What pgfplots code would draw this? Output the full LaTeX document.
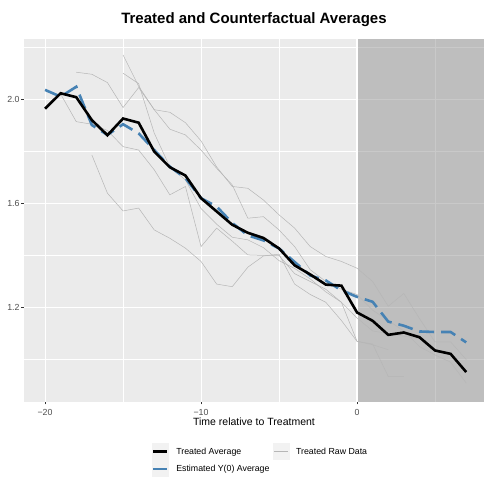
\documentclass[border=0pt]{standalone}
\usepackage{fontspec}
\setmainfont{Liberation Sans}
\usepackage{pgfplots}
\pgfplotsset{compat=1.18}
\usepackage{pgfplotstable}
\definecolor{panelbg}{RGB}{235,235,235}
\definecolor{rawgrey}{RGB}{182,182,182}
\definecolor{steel}{RGB}{70,130,180}
\definecolor{grey30}{RGB}{77,77,77}
\definecolor{grey20}{RGB}{51,51,51}
\definecolor{keybg}{RGB}{242,242,242}

\pgfplotstableread{
x y
-20 1.964
-19 2.023
-18 2.008
-17 1.920
-16 1.862
-15 1.926
-14 1.910
-13 1.799
-12 1.739
-11 1.707
-10 1.620
-9 1.569
-8 1.518
-7 1.487
-6 1.467
-5 1.427
-4 1.362
-3 1.327
-2 1.288
-1 1.284
0 1.181
1 1.149
2 1.095
3 1.104
4 1.086
5 1.035
6 1.022
7 0.952
}\treated

\pgfplotstableread{
x y
-20 2.036
-19 2.010
-18 2.048
-17 1.901
-16 1.863
-15 1.904
-14 1.869
-13 1.805
-12 1.741
-11 1.697
-10 1.620
-9 1.588
-8 1.525
-7 1.477
-6 1.458
-5 1.427
-4 1.375
-3 1.323
-2 1.304
-1 1.266
0 1.241
1 1.222
2 1.146
3 1.130
4 1.108
5 1.106
6 1.106
7 1.066
}\estimated

\pgfplotstableread{
x y
-18 2.104
-17 2.096
-16 2.064
-15 1.968
-14 2.045
-13 1.960
-12 1.950
-11 1.910
-10 1.840
-9 1.740
-8 1.665
-7 1.658
-6 1.613
-5 1.556
-4 1.505
-3 1.434
-2 1.396
-1 1.377
0 1.351
1 1.300
2 1.205
3 1.254
4 1.158
5 1.068
6 1.068
7 1.000
}\rawA

\pgfplotstableread{
x y
-15 2.170
-14 2.050
-13 1.960
-12 1.885
-11 1.863
-10 1.805
-9 1.735
-8 1.671
-7 1.543
-6 1.549
-5 1.498
-4 1.434
-3 1.345
-2 1.300
-1 1.270
0 1.250
1 1.190
2 1.150
3 1.110
4 1.050
5 1.018
6 0.990
7 0.910
}\rawB

\pgfplotstableread{
x y
-15 2.100
-14 2.060
-13 1.870
-12 1.740
-11 1.690
-10 1.580
-9 1.520
-8 1.470
-7 1.460
-6 1.430
-5 1.380
-4 1.350
-3 1.310
-2 1.260
-1 1.220
0 1.160
1 1.110
2 1.100
3 1.090
4 1.080
}\rawC

\pgfplotstableread{
x y
-19 2.020
-18 1.914
-17 1.904
-16 1.880
-15 1.818
-14 1.805
-13 1.729
-12 1.633
-11 1.665
-10 1.434
-9 1.505
-8 1.455
-7 1.402
-6 1.400
-5 1.400
-4 1.330
-3 1.300
-2 1.270
-1 1.220
0 1.070
1 1.057
2 1.038
}\rawD

\pgfplotstableread{
x y
-17 1.786
-16 1.639
-15 1.571
-14 1.582
-13 1.498
-12 1.466
-11 1.428
-10 1.377
-9 1.290
-8 1.280
-7 1.355
-6 1.398
-5 1.405
-4 1.290
-3 1.250
-2 1.220
-1 1.150
0 1.070
1 1.060
2 0.935
3 0.935
}\rawE

\begin{document}
\begin{tikzpicture}
\useasboundingbox (-24bp,-75.5bp) rectangle (460bp,401.5bp);
\begin{axis}[
  at={(0,0)}, anchor=south west,
  scale only axis,
  width=460bp, height=362.5bp,
  xmin=-21.35, xmax=8.14,
  ymin=0.839, ymax=2.2315,
  axis background/.style={fill=panelbg},
  axis line style={draw=none},
  xtick={-20,-10,0}, xticklabels={−20,−10,0},
  ytick={1.2,1.6,2.0}, yticklabels={1.2,1.6,2.0},
  minor xtick={-15,-5,5},
  minor ytick={1.0,1.4,1.8,2.2},
  grid=both,
  major grid style={white, line width=1.07bp},
  minor grid style={white, line width=0.53bp},
  xtick pos=bottom, ytick pos=left,
  tick align=outside,
  major tick length=2.75bp,
  minor tick length=0pt,
  tick style={grey20, line width=0.5bp},
  ticklabel style={font=\fontsize{8.8bp}{10bp}\selectfont, text=grey30},
  xticklabel style={inner sep=0pt, yshift=-4.5bp},
  yticklabel style={inner sep=0pt, xshift=-1.5bp},
  xlabel={Time relative to Treatment},
  xlabel style={font=\fontsize{10.5bp}{12bp}\selectfont, at={(axis description cs:0.5,0)}, anchor=center, yshift=-20.5bp, inner sep=0pt},
  title={\bfseries Treated and Counterfactual Averages},
  title style={font=\fontsize{15bp}{17bp}\selectfont, at={(axis description cs:0.5,1)}, anchor=base, yshift=10bp, inner sep=0pt},
  legend columns=2,
  legend cell align=left,
  legend style={at={(axis description cs:0.2776,0)}, anchor=north west, yshift=-41.5bp,
    draw=none, fill=none, inner sep=0pt, outer sep=0pt,
    font=\fontsize{8.8bp}{10bp}\selectfont,
    nodes={inner sep=0pt, outer sep=0pt},
    /tikz/every even column/.append style={column sep=3bp}},
  legend image code/.code={
    \fill[keybg, draw=none] (0bp,-8.64bp) rectangle (17.28bp,8.64bp);
    \draw[#1] (1.7bp,0bp) -- (15.58bp,0bp);
    \path (23.28bp,0bp);
  },
]
% shaded post-treatment region
\addplot[draw=none, fill=gray, fill opacity=0.42, forget plot]
  coordinates {(0,0.839) (8.3,0.839) (8.3,2.2315) (0,2.2315)} -- cycle;
% vertical line at 0
\addplot[white, line width=2.3bp, forget plot] coordinates {(0,0.839) (0,2.2315)};
% raw data
\addplot[rawgrey, line width=0.5bp, forget plot] table[x=x,y=y] {\rawA};
\addplot[rawgrey, line width=0.5bp, forget plot] table[x=x,y=y] {\rawB};
\addplot[rawgrey, line width=0.5bp, forget plot] table[x=x,y=y] {\rawC};
\addplot[rawgrey, line width=0.5bp, forget plot] table[x=x,y=y] {\rawD};
\addplot[rawgrey, line width=0.5bp, forget plot] table[x=x,y=y] {\rawE};
% averages
\addplot[steel, line width=2.6bp, dash pattern=on 15bp off 7bp, forget plot] table[x=x,y=y] {\estimated};
\addplot[black, line width=2.6bp, forget plot] table[x=x,y=y] {\treated};
% legend
\addlegendimage{black, line width=2.6bp}
\addlegendentry{Treated Average}
\addlegendimage{rawgrey, line width=0.5bp}
\addlegendentry{Treated Raw Data}
\addlegendimage{steel, line width=2.6bp}
\addlegendentry{Estimated Y(0) Average}
\end{axis}
\end{tikzpicture}
\end{document}
